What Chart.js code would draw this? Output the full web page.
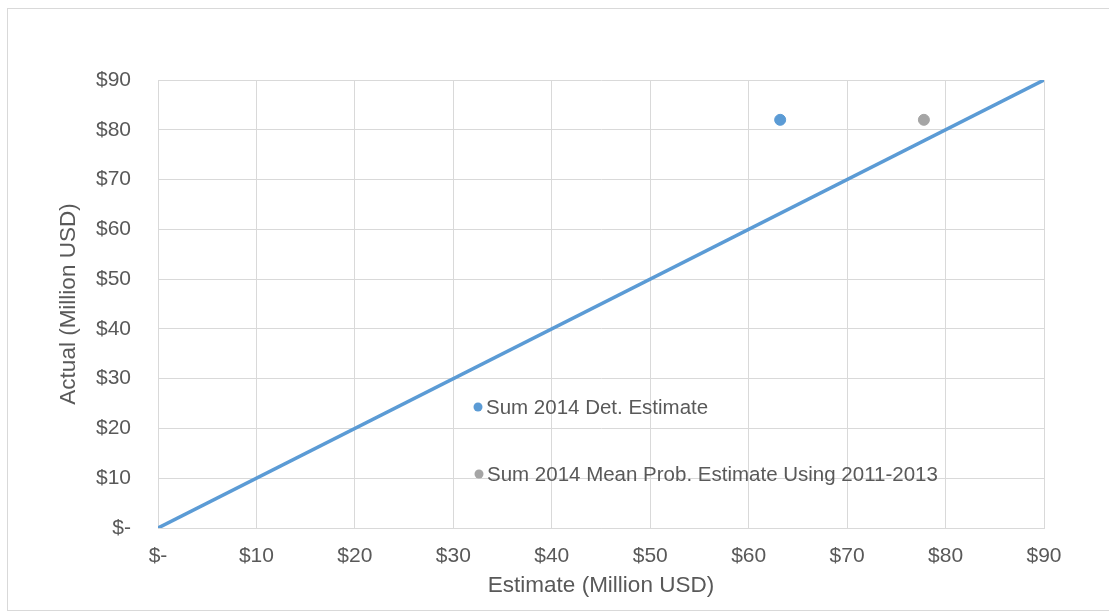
<!DOCTYPE html>
<html>
<head>
<meta charset="utf-8">
<script src="https://cdn.jsdelivr.net/npm/chart.js@4.4.1/dist/chart.umd.min.js"></script>
<style>
  html, body { margin: 0; padding: 0; background: #fff; }
  #wrap { width: 1109px; height: 615px; }
</style>
</head>
<body>
<div id="wrap"><canvas id="estChart" width="1109" height="615"></canvas></div>
<script>
// values (Million USD)
const tickValues = [0, 10, 20, 30, 40, 50, 60, 70, 80, 90];
const tickLabels = ['$-', '$10', '$20', '$30', '$40', '$50', '$60', '$70', '$80', '$90'];

const parityX = [0, 90];
const parityY = [0, 90];

const detLabel = 'Sum 2014 Det. Estimate';
const detEstimate = [63.2];
const detActual = [82];

const probLabel = 'Sum 2014 Mean Prob. Estimate Using 2011-2013';
const probEstimate = [77.8];
const probActual = [82];

const blue = '#5B9BD5';
const grey = '#A5A5A5';
const txt = '#595959';
const gridCol = '#D9D9D9';
const fontFam = 'Arial, "Liberation Sans", sans-serif';

function pts(xs, ys) {
  return xs.map((x, i) => ({ x: x, y: ys[i] }));
}
function tickText(v) {
  const i = tickValues.indexOf(v);
  return i >= 0 ? tickLabels[i] : '';
}

// white background and light outer frame
const frame = {
  id: 'frame',
  beforeDraw(chart) {
    const c = chart.ctx;
    c.save();
    c.fillStyle = '#fff';
    c.fillRect(0, 0, chart.width, chart.height);
    c.strokeStyle = '#D9D9D9';
    c.lineWidth = 1;
    c.strokeRect(7.5, 8.5, chart.width, 602);
    c.restore();
  }
};

// legend drawn inside the plot area, like the Excel original
const innerLegend = {
  id: 'innerLegend',
  afterDatasetsDraw(chart, args, opts) {
    const c = chart.ctx;
    c.save();
    c.font = opts.size + 'px ' + fontFam;
    c.textBaseline = 'middle';
    opts.items.forEach(item => {
      const ds = chart.data.datasets[item.index];
      c.fillStyle = ds.backgroundColor;
      c.beginPath();
      c.arc(item.x, item.y, 4.5, 0, Math.PI * 2);
      c.fill();
      c.fillStyle = txt;
      c.fillText(ds.label, item.x + 8, item.y + 1);
    });
    c.restore();
  }
};

new Chart(document.getElementById('estChart'), {
  type: 'scatter',
  data: {
    datasets: [{
      label: 'Parity',
      data: pts(parityX, parityY),
      showLine: true,
      borderColor: blue,
      backgroundColor: blue,
      borderWidth: 3.5,
      pointRadius: 0
    }, {
      label: detLabel,
      data: pts(detEstimate, detActual),
      backgroundColor: blue,
      borderColor: blue,
      pointRadius: 5.5
    }, {
      label: probLabel,
      data: pts(probEstimate, probActual),
      backgroundColor: grey,
      borderColor: grey,
      pointRadius: 5.5
    }]
  },
  options: {
    responsive: false,
    animation: false,
    layout: { padding: { left: 0, top: 80, right: 65, bottom: 0 } },
    plugins: {
      legend: { display: false },
      tooltip: { enabled: false },
      innerLegend: {
        size: 20.5,
        items: [
          { index: 1, x: 478, y: 407 },
          { index: 2, x: 479, y: 474 }
        ]
      }
    },
    scales: {
      x: {
        type: 'linear',
        min: 0,
        max: 90,
        afterFit(s) { s.height = 87; },
        afterBuildTicks(s) { s.ticks = tickValues.map(v => ({ value: v })); },
        grid: { color: gridCol, lineWidth: 1, drawTicks: false },
        border: { color: gridCol },
        ticks: {
          padding: 16,
          color: txt,
          font: { family: fontFam, size: 21 },
          callback: v => tickText(v)
        },
        title: {
          display: true,
          text: 'Estimate (Million USD)',
          color: txt,
          font: { family: fontFam, size: 22.5 },
          padding: { top: 0, bottom: 16 }
        }
      },
      y: {
        type: 'linear',
        min: 0,
        max: 90,
        afterFit(s) { s.width = 158; },
        afterBuildTicks(s) { s.ticks = tickValues.map(v => ({ value: v })); },
        grid: { color: gridCol, lineWidth: 1, drawTicks: false },
        border: { color: gridCol },
        ticks: {
          padding: 27,
          color: txt,
          font: { family: fontFam, size: 21 },
          callback: v => tickText(v)
        },
        title: {
          display: true,
          text: 'Actual (Million USD)',
          color: txt,
          font: { family: fontFam, size: 22.5 },
          padding: { top: 55, bottom: 0 }
        }
      }
    }
  },
  plugins: [frame, innerLegend]
});
</script>
</body>
</html>
